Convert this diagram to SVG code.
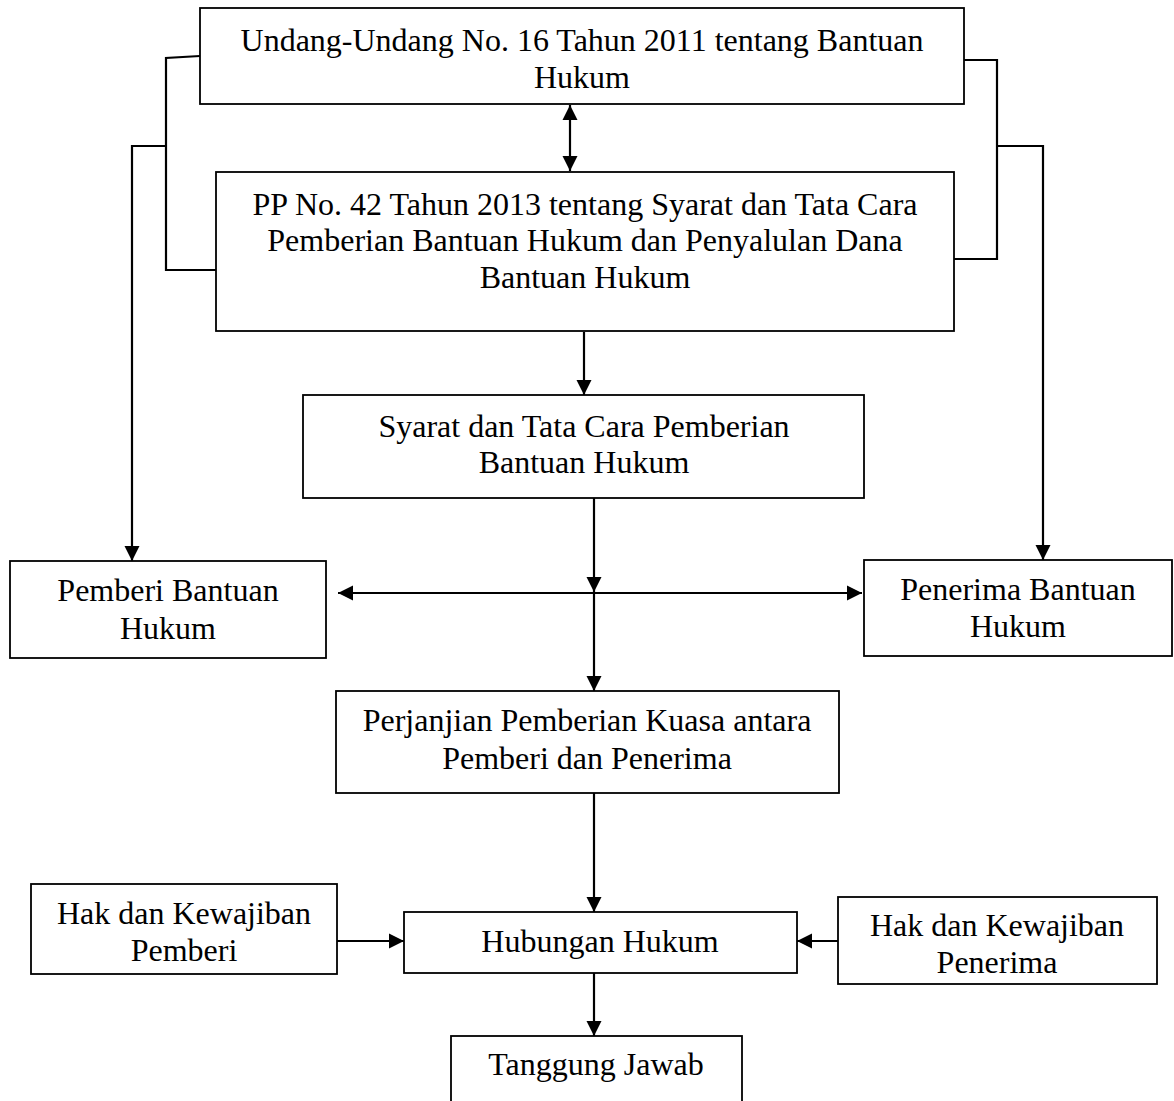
<svg xmlns="http://www.w3.org/2000/svg" width="1174" height="1101" viewBox="0 0 1174 1101">
<style>
.box{fill:#fff;stroke:#000;stroke-width:1.8}
.t{font-family:"Liberation Serif","Times New Roman",serif;font-size:32px;fill:#000;text-anchor:middle}
.c{fill:none;stroke:#000;stroke-width:2.2}
.a{marker-end:url(#ah)}
.d{marker-start:url(#ah);marker-end:url(#ah)}
</style>
<defs>
<marker id="ah" markerUnits="userSpaceOnUse" markerWidth="16" markerHeight="16" refX="15" refY="7.5" orient="auto-start-reverse" viewBox="0 0 16 15">
<path d="M0,0 L15,7.5 L0,15 z" fill="#000"/>
</marker>
</defs>
<rect width="1174" height="1101" fill="#fff"/>
<g id="connectors">
<line class="c d" x1="570" y1="105" x2="570" y2="171"/>
<line class="c a" x1="584" y1="332" x2="584" y2="395"/>
<line class="c a" x1="594" y1="498" x2="594" y2="592"/>
<line class="c d" x1="338" y1="593" x2="862" y2="593"/>
<line class="c a" x1="594" y1="593" x2="594" y2="691"/>
<line class="c a" x1="594" y1="790" x2="594" y2="912"/>
<line class="c a" x1="337" y1="941" x2="404" y2="941"/>
<line class="c a" x1="838" y1="941" x2="797" y2="941"/>
<line class="c a" x1="594" y1="973" x2="594" y2="1036"/>
<polyline class="c" points="200,56 166,58 166,270 216,270"/>
<polyline class="c a" points="166,146 132,146 132,561"/>
<polyline class="c" points="964,60 997,60 997,259 954,259"/>
<polyline class="c a" points="997,146 1043,146 1043,560"/>
</g>
<g id="n-uu">
<rect class="box" x="200" y="8" width="764" height="96"/>
<text class="t" x="582" y="51">Undang-Undang No. 16 Tahun 2011 tentang Bantuan</text>
<text class="t" x="582" y="88">Hukum</text>
</g>
<g id="n-pp">
<rect class="box" x="216" y="172" width="738" height="159"/>
<text class="t" x="585" y="215">PP No. 42 Tahun 2013 tentang Syarat dan Tata Cara</text>
<text class="t" x="585" y="251">Pemberian Bantuan Hukum dan Penyalulan Dana</text>
<text class="t" x="585" y="288">Bantuan Hukum</text>
</g>
<g id="n-syarat">
<rect class="box" x="303" y="395" width="561" height="103"/>
<text class="t" x="584" y="437">Syarat dan Tata Cara Pemberian</text>
<text class="t" x="584" y="473">Bantuan Hukum</text>
</g>
<g id="n-pemberi">
<rect class="box" x="10" y="561" width="316" height="97"/>
<text class="t" x="168" y="601">Pemberi Bantuan</text>
<text class="t" x="168" y="639">Hukum</text>
</g>
<g id="n-penerima">
<rect class="box" x="864" y="560" width="308" height="96"/>
<text class="t" x="1018" y="600">Penerima Bantuan</text>
<text class="t" x="1018" y="637">Hukum</text>
</g>
<g id="n-perjanjian">
<rect class="box" x="336" y="691" width="503" height="102"/>
<text class="t" x="587" y="731">Perjanjian Pemberian Kuasa antara</text>
<text class="t" x="587" y="769">Pemberi dan Penerima</text>
</g>
<g id="n-hak-pemberi">
<rect class="box" x="31" y="884" width="306" height="90"/>
<text class="t" x="184" y="924">Hak dan Kewajiban</text>
<text class="t" x="184" y="961">Pemberi</text>
</g>
<g id="n-hubungan">
<rect class="box" x="404" y="912" width="393" height="61"/>
<text class="t" x="600" y="952">Hubungan Hukum</text>
</g>
<g id="n-hak-penerima">
<rect class="box" x="838" y="897" width="319" height="87"/>
<text class="t" x="997" y="936">Hak dan Kewajiban</text>
<text class="t" x="997" y="973">Penerima</text>
</g>
<g id="n-tanggung">
<rect class="box" x="451" y="1036" width="291" height="80"/>
<text class="t" x="596" y="1075">Tanggung Jawab</text>
</g>
</svg>
